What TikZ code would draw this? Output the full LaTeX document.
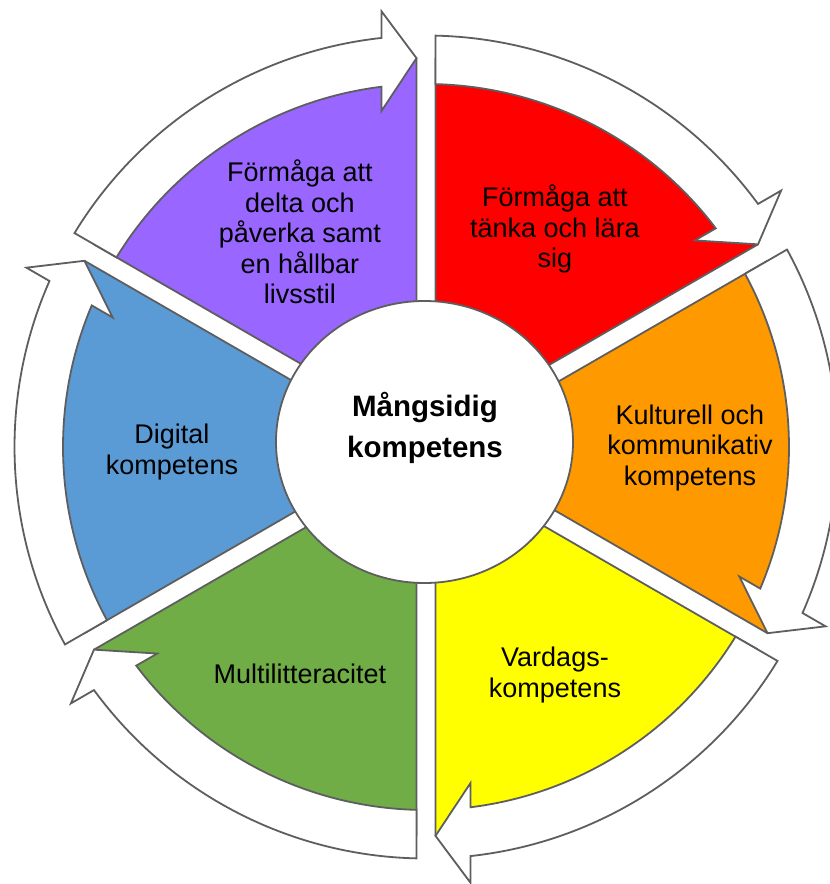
\documentclass[tikz,border=0pt]{standalone}
\usepackage{fontspec}
\setmainfont{Liberation Sans}
\usetikzlibrary{calc,shapes.geometric}
\definecolor{cred}{HTML}{FF0000}
\definecolor{corange}{HTML}{FF9900}
\definecolor{cyellow}{HTML}{FFFF00}
\definecolor{cgreen}{HTML}{70AD47}
\definecolor{cblue}{HTML}{5B9BD5}
\definecolor{cpurple}{HTML}{9966FF}
\definecolor{linegray}{HTML}{5E5E5E}
\tikzset{
  outl/.style={draw=linegray, line width=1.8pt, line join=miter},
  lbl/.style={align=center, font=\fontsize{27}{30.5}\selectfont, inner sep=0pt, text=black},
  hublbl/.style={align=center, font=\bfseries\fontsize{29.5}{41}\selectfont, inner sep=0pt, text=black},
}
% geometry (1 unit = 1 pixel of the reference)
\def\G{9.5}      % half gap
\def\R{389}      % fill radius / tip radius
\def\Rin{363}    % band inner radius
\def\Rout{411.5} % band outer radius
\def\L{35}       % arrowhead length
\def\Bin{339}    % inner barb radius
\def\Bout{438}   % outer barb radius
\newcommand{\segfill}[2]{%
  \pgfmathsetmacro{\sa}{#1}%
  \pgfmathsetmacro{\sb}{#1-60}%
  \pgfmathsetmacro{\sm}{#1-30}%
  \pgfmathsetmacro{\tR}{\R*cos(asin(\G/\R))}%
  \pgfmathsetmacro{\angS}{\sb+asin(\G/\R)}%
  \pgfmathsetmacro{\angE}{\sa-asin(\G/\R)}%
  \pgfmathsetmacro{\nb}{\sb+90}%
  \pgfmathsetmacro{\na}{\sa-90}%
  \pgfmathsetmacro{\ap}{2*\G}%
  \fill[#2] (\sm:\ap) -- ($(\sb:\tR)+(\nb:\G)$) arc[start angle=\angS, end angle=\angE, radius=\R pt] -- cycle;
  \draw[outl] ($(\sb:\tR)+(\nb:\G)$) -- (\sm:\ap) -- ($(\sa:\tR)+(\na:\G)$);
}
\newcommand{\segband}[1]{%
  \pgfmathsetmacro{\sa}{#1}%
  \pgfmathsetmacro{\sb}{#1-60}%
  \pgfmathsetmacro{\nb}{\sb+90}%
  \pgfmathsetmacro{\na}{\sa-90}%
  \pgfmathsetmacro{\GL}{\G+\L}%
  \pgfmathsetmacro{\tO}{\Rout*cos(asin(\G/\Rout))}%
  \pgfmathsetmacro{\aOs}{\sa-asin(\G/\Rout)}%
  \pgfmathsetmacro{\aOe}{\sb+asin(\GL/\Rout)}%
  \pgfmathsetmacro{\tBo}{\Bout*cos(asin(\GL/\Bout))}%
  \pgfmathsetmacro{\tTip}{\R*cos(asin(\G/\R))}%
  \pgfmathsetmacro{\tBi}{\Bin*cos(asin(\GL/\Bin))}%
  \pgfmathsetmacro{\tIb}{\Rin*cos(asin(\GL/\Rin))}%
  \pgfmathsetmacro{\aIs}{\sb+asin(\GL/\Rin)}%
  \pgfmathsetmacro{\aIe}{\sa-asin(\G/\Rin)}%
  \filldraw[outl, fill=white] ($(\sa:\tO)+(\na:\G)$)
    arc[start angle=\aOs, end angle=\aOe, radius=\Rout pt]
    -- ($(\sb:\tBo)+(\nb:\GL)$)
    -- ($(\sb:\tTip)+(\nb:\G)$)
    -- ($(\sb:\tBi)+(\nb:\GL)$)
    -- ($(\sb:\tIb)+(\nb:\GL)$)
    arc[start angle=\aIs, end angle=\aIe, radius=\Rin pt]
    -- cycle;
}
\begin{document}
\begin{tikzpicture}[x=1pt,y=1pt]
  \clip (-426,-437) rectangle (404,447);
  \fill[white] (-426,-437) rectangle (404,447);
  % coloured sectors
  \segfill{90}{cred}
  \segfill{30}{corange}
  \segfill{-30}{cyellow}
  \segfill{-90}{cgreen}
  \segfill{-150}{cblue}
  \segfill{150}{cpurple}
  % white arrow bands
  \segband{90}
  \segband{30}
  \segband{-30}
  \segband{-90}
  \segband{-150}
  \segband{150}
  % hub
  \node[ellipse, outl, fill=white, minimum width=297pt, minimum height=282pt, inner sep=0pt] (hub) at (-1.5,5) {};
  \node[hublbl] (hubtext) at (-1,19) {Mångsidig\\kompetens};
  % labels
  \node[lbl] (lred) at (129,218) {Förmåga att\\tänka och lära\\sig};
  \node[lbl] (lorange) at (264,-1) {Kulturell och\\kommunikativ\\kompetens};
  \node[lbl] (lyellow) at (129,-228) {Vardags-\\kompetens};
  \node[lbl] (lgreen) at (-126,-227) {Multilitteracitet};
  \node[lbl] (lblue) at (-254,-5) {Digital\\kompetens};
  \node[lbl] (lpurple) at (-126,215) {Förmåga att\\delta och\\påverka samt\\en hållbar\\livsstil};
\end{tikzpicture}
\end{document}
